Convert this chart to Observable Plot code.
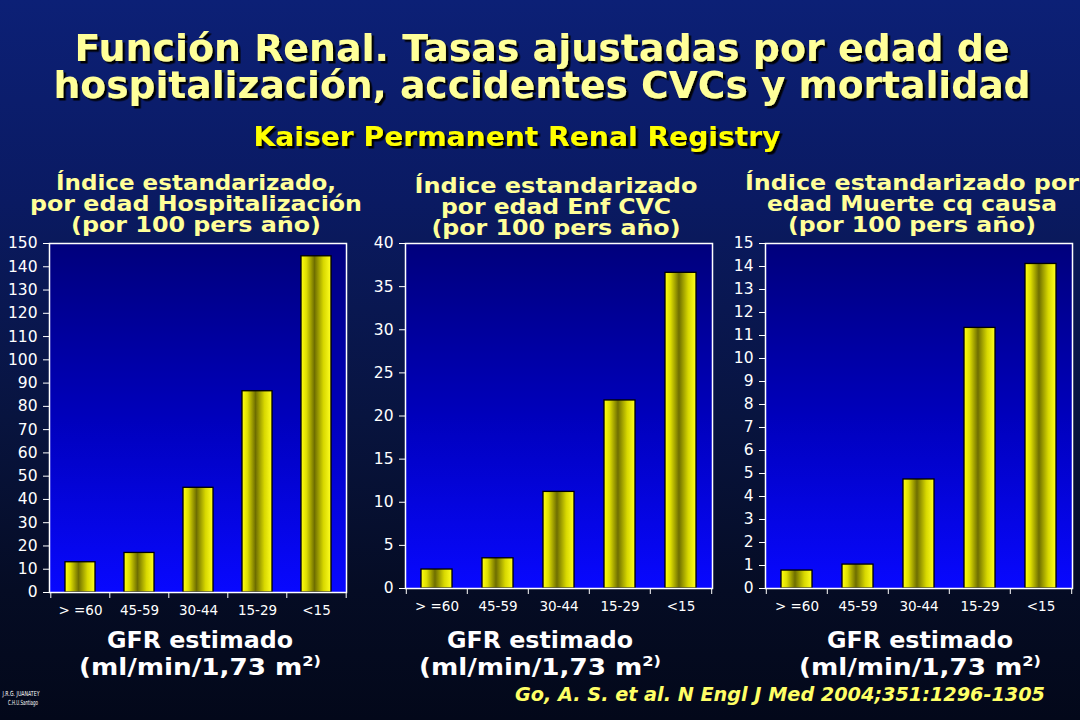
<!DOCTYPE html>
<html>
<head>
<meta charset="utf-8">
<script src="https://cdn.jsdelivr.net/npm/d3@7"></script>
<script src="https://cdn.jsdelivr.net/npm/@observablehq/plot@0.6"></script>
<style>
  html, body { margin: 0; padding: 0; }
  body {
    width: 1080px; height: 720px; overflow: hidden; position: relative;
    background: linear-gradient(to bottom, #0c2076 0%, #0a1a62 28%, #08143f 58%, #050c24 82%, #03081a 100%);
    font-family: "DejaVu Sans", sans-serif;
  }
  .chart { position: absolute; }
  #overlay { position: absolute; left: 0; top: 0; pointer-events: none; }
</style>
</head>
<body>
<div id="c1" class="chart"></div>
<div id="c2" class="chart"></div>
<div id="c3" class="chart"></div>
<svg id="overlay" width="1080" height="720"></svg>
<script>
// ---- data ----
const categories = ["> =60", "45-59", "30-44", "15-29", "<15"];
const hospitalizacion = [13, 17, 45, 86.5, 144.5];
const enfCVC = [2.2, 3.5, 11.2, 21.8, 36.6];
const muerte = [0.78, 1.04, 4.74, 11.33, 14.11];
const ticksHosp = [0, 10, 20, 30, 40, 50, 60, 70, 80, 90, 100, 110, 120, 130, 140, 150];
const ticksCVC = [0, 5, 10, 15, 20, 25, 30, 35, 40];
const ticksMuerte = [0, 1, 2, 3, 4, 5, 6, 7, 8, 9, 10, 11, 12, 13, 14, 15];

function makeChart(cfg) {
  const {el, values, yMax, ticks, left, width, marginLeft, marginRight, plotTop, plotBottom, id} = cfg;
  const marginTop = 10, marginBottom = 34;
  const height = plotBottom - plotTop + marginTop + marginBottom;
  const step = (width - marginLeft - marginRight) / categories.length;
  const data = categories.map((c, i) => ({cat: c, v: values[i]}));
  const svg = Plot.plot({
    width, height, marginLeft, marginRight, marginTop, marginBottom,
    style: {background: "transparent", color: "white", fontFamily: "DejaVu Sans, sans-serif", overflow: "visible"},
    x: {type: "band", domain: categories, paddingInner: 0.5, paddingOuter: 0.25, label: null},
    y: {domain: [0, yMax], label: null},
    marks: [
      Plot.frame({fill: `url(#bg-${id})`, stroke: "none"}),
      Plot.barY(data, {x: "cat", y: "v", fill: `url(#bar-${id})`, stroke: "black", strokeWidth: 1.3}),
      Plot.frame({stroke: "white", strokeWidth: 1.5}),
      Plot.axisY({ticks, tickSize: 6, tickPadding: 6, fontSize: 15.5, label: null}),
      Plot.axisX({tickSize: 0, tickPadding: 13, fontSize: 13.5, label: null}),
      Plot.axisX({tickSize: 6, tickFormat: () => "", dx: -step / 2, label: null}),
      Plot.axisX({ticks: [categories[categories.length - 1]], tickSize: 6, tickFormat: () => "", dx: step / 2, label: null})
    ]
  });
  const ns = "http://www.w3.org/2000/svg";
  const defs = document.createElementNS(ns, "defs");
  defs.innerHTML = `
    <linearGradient id="bg-${id}" x1="0" y1="0" x2="0" y2="1">
      <stop offset="0" stop-color="#00007c"/>
      <stop offset="0.5" stop-color="#0000bc"/>
      <stop offset="1" stop-color="#0808ff"/>
    </linearGradient>
    <linearGradient id="bar-${id}" x1="0" y1="0" x2="1" y2="0">
      <stop offset="0" stop-color="#ffff10"/>
      <stop offset="0.18" stop-color="#dede00"/>
      <stop offset="0.45" stop-color="#6e6e00"/>
      <stop offset="0.75" stop-color="#d8d800"/>
      <stop offset="1" stop-color="#ffff20"/>
    </linearGradient>`;
  svg.insertBefore(defs, svg.firstChild);
  const host = document.getElementById(el);
  host.style.left = left + "px";
  host.style.top = (plotTop - marginTop) + "px";
  host.appendChild(svg);
}

makeChart({el: "c1", id: "h", values: hospitalizacion, yMax: 150, ticks: ticksHosp,
  left: 0, width: 360, marginLeft: 49, marginRight: 14, plotTop: 243, plotBottom: 592});
makeChart({el: "c2", id: "c", values: enfCVC, yMax: 40, ticks: ticksCVC,
  left: 360, width: 360, marginLeft: 45, marginRight: 8, plotTop: 243, plotBottom: 588});
makeChart({el: "c3", id: "m", values: muerte, yMax: 15, ticks: ticksMuerte,
  left: 720, width: 360, marginLeft: 45, marginRight: 8, plotTop: 243, plotBottom: 588});

// ---- text overlay ----
const overlay = d3.select("#overlay");
overlay.append("defs").html(`
  <filter id="shadow" x="-5%" y="-20%" width="110%" height="140%">
    <feDropShadow dx="2.5" dy="2.5" stdDeviation="0.5" flood-color="#000000" flood-opacity="0.95"/>
  </filter>`);

const BOLD = "DejaVu Sans, sans-serif";
const COND = "DejaVu Sans Condensed, DejaVu Sans, sans-serif";

function label(t, cx, y, w, size, opts = {}) {
  const txt = overlay.append("text")
    .attr("x", cx).attr("y", y)
    .attr("text-anchor", "middle")
    .attr("font-family", opts.family || BOLD)
    .attr("font-weight", opts.weight || "bold")
    .attr("font-style", opts.style || "normal")
    .attr("font-size", size)
    .attr("fill", opts.fill || "#ffff99")
    .attr("textLength", w)
    .attr("lengthAdjust", "spacingAndGlyphs");
  if (opts.shadow) txt.attr("filter", "url(#shadow)");
  if (opts.sup) {
    txt.append("tspan").text(t);
    txt.append("tspan").attr("font-size", size * 0.62).attr("dy", -size * 0.38).text(opts.sup);
  } else {
    txt.text(t);
  }
  return txt;
}

// main titles
label("Función Renal. Tasas ajustadas por edad de", 542, 61, 935, 38, {fill: "#ffff99", shadow: true});
label("hospitalización, accidentes CVCs y mortalidad", 542, 98, 977, 38, {fill: "#ffff99", shadow: true});
label("Kaiser Permanent Renal Registry", 517, 146, 527, 26, {fill: "#ffff00", shadow: true});

// panel subtitles
const subtitles = [
  {cx: 196, y: 190, lines: ["Índice estandarizado,", "por edad Hospitalización", "(por 100 pers año)"], w: [280, 332, 250]},
  {cx: 556, y: 193, lines: ["Índice estandarizado", "por edad Enf CVC", "(por 100 pers año)"], w: [283, 230, 249]},
  {cx: 912, y: 190, lines: ["Índice estandarizado por", "edad Muerte cq causa", "(por 100 pers año)"], w: [334, 290, 248]}
];
subtitles.forEach(s => s.lines.forEach((l, i) =>
  label(l, s.cx, s.y + i * 21, s.w[i], 22, {family: COND, fill: "#ffff99"})));

// x-axis titles
[200, 540, 920].forEach(cx => {
  label("GFR estimado", cx, 648, 186, 23, {family: COND, fill: "#ffffff"});
  label("(ml/min/1,73 m", cx, 675, 242, 23, {family: COND, fill: "#ffffff", sup: "2)"});
});

// citation & credit
label("Go, A. S. et al. N Engl J Med 2004;351:1296-1305", 780, 701, 530, 19, {family: COND, style: "italic", fill: "#ffff66"});
label("J.R.G. JUANATEY", 21, 696, 37, 7, {family: BOLD, weight: "normal", fill: "#ffffff"});
label("C.H.U.Santiago", 23, 705, 30, 7, {family: BOLD, weight: "normal", fill: "#ffffff"});
</script>
</body>
</html>
